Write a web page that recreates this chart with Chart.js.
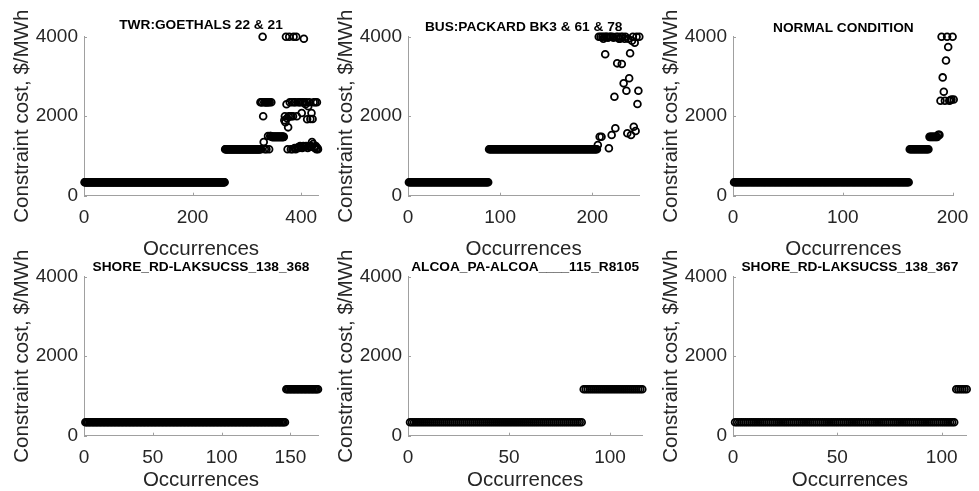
<!DOCTYPE html>
<html>
<head>
<meta charset="utf-8">
<script src="https://cdn.jsdelivr.net/npm/chart.js@4.4.1/dist/chart.umd.min.js"></script>
<style>
  body { margin: 0; background: #fff; width: 979px; height: 491px; position: relative; overflow: hidden; }
  canvas { position: absolute; }
</style>
</head>
<body>
<canvas id="p1" width="330" height="260" style="left:0px;top:0px"></canvas>
<canvas id="p2" width="330" height="260" style="left:324px;top:0px"></canvas>
<canvas id="p3" width="330" height="260" style="left:649px;top:0px"></canvas>
<canvas id="p4" width="330" height="251" style="left:0px;top:240px"></canvas>
<canvas id="p5" width="330" height="251" style="left:324px;top:240px"></canvas>
<canvas id="p6" width="330" height="251" style="left:649px;top:240px"></canvas>
<script>
// panel titles
const titles = [
  'TWR:GOETHALS 22 & 21',
  'BUS:PACKARD BK3 & 61 & 78',
  'NORMAL CONDITION',
  'SHORE_RD-LAKSUCSS_138_368',
  'ALCOA_PA-ALCOA____115_R8105',
  'SHORE_RD-LAKSUCSS_138_367'
];

// axis ranges / ticks
const xMax = [431, 251, 201, 170, 116, 112];
const xTicks = [
  [0, 200, 400],
  [0, 100, 200],
  [0, 100, 200],
  [0, 50, 100, 150],
  [0, 50, 100],
  [0, 50, 100]
];
const yTicks = [0, 2000, 4000];

// constraint cost per occurrence, $/MWh, in occurrence order
// [value, count] = a run of equal values, plain number = a single occurrence
const goethalsCost = [
  [340, 259], [1170, 65],
  2350, 1170, 2350, 2350, 4000, 2000, 1350, 2350, 1170, 2350, 2350, 1170, 2350, 2350, 1500, 2350, 1170, 2350, 1500, 1500, 2350,
  [1480, 23],
  1900, 2000, 1850, 4000, 2300, 1950, 1170, 1720, 2000, 4000, 2350, 2000, 1170, 2000, 2350, 1170,
  2000, 4000, 2350, 1200, 2350, 1170, 4000, 2000, 1200, 2350, 1225, 1200, 2350, 1250, 2350, 1225,
  2080, 1200, 2350, 1250, 3950, 2350, 1225, 2300, 1250, 2350, 1925, 1200, 2250, 1250, 2350, 1225,
  1930, 1250, 2080, 1350, 1930, 1300, 2350, 1225, 1200, 2350, 1250, 1170, 2350, 1200, 1170
];
const packardCost = [
  [340, 87], [1170, 118],
  1275, 4000, 1484, 4000, 1484, 4000, 3950, 4000, 3557, 4000, 4000, 3975, 1192, 4000, 4000, 1527,
  4000, 3975, 2490, 1695, 4000, 3330, 4000, 3950, 3950, 4000, 3313, 4000, 2827, 3950, 4000, 2641,
  1570, 3950, 2953, 3582, 1527, 3900, 4000, 1736, 3850, 1628, 4000, 2307, 2641, 4000
];
const normalCost = [
  [340, 160], [1170, 18], [1480, 8], 1530, 1530,
  2390, 4000, 2976, 2616, 2390, 3400, 4000, 3740, 2390, 2400, 2420, 4000, 2420
];
const shore368Cost = [[340, 146], [1170, 24]];
const alcoaCost = [[340, 86], [1170, 30]];
const shore367Cost = [[340, 106], [1170, 6]];

const series = [goethalsCost, packardCost, normalCost, shore368Cost, alcoaCost, shore367Cost];

function toPoints(seq) {
  const ys = [];
  seq.forEach(item => {
    if (Array.isArray(item)) {
      for (let i = 0; i < item[1]; i++) ys.push(item[0]);
    } else {
      ys.push(item);
    }
  });
  return ys.map((y, i) => ({ x: i + 1, y: y }));
}

const FONT = '"Liberation Sans", Arial, Helvetica, sans-serif';
const AXIS_GRAY = '#a0a0a0';
const TEXT = '#262626';

// panel title + inward tick marks (MATLAB look)
const panelDecor = {
  id: 'panelDecor',
  beforeDatasetsDraw(chart, args, opts) {
    const { ctx, chartArea: a, scales: { x, y } } = chart;
    ctx.save();
    ctx.strokeStyle = AXIS_GRAY;
    ctx.lineWidth = 1;
    ctx.beginPath();
    x.ticks.forEach(t => {
      const px = Math.round(x.getPixelForValue(t.value)) + 0.5;
      ctx.moveTo(px, a.bottom);
      ctx.lineTo(px, a.bottom - 3);
    });
    y.ticks.forEach(t => {
      const py = Math.round(y.getPixelForValue(t.value)) + 0.5;
      ctx.moveTo(a.left, py);
      ctx.lineTo(a.left + 3, py);
    });
    ctx.stroke();
    ctx.fillStyle = '#000';
    ctx.font = 'bold 13.7px ' + FONT;
    ctx.textAlign = 'center';
    ctx.textBaseline = 'middle';
    ctx.fillText(opts.text, (a.left + a.right) / 2, a.top - opts.offset);
    ctx.restore();
  }
};

// chart-area right edge inside each canvas, title offset
const panelRight = [318, 315.3, 316, 318, 318.3, 317.7];
const titleOffset = [11.5, 9.4, 8.4, 9, 9, 9];

series.forEach((seq, i) => {
  const canvas = document.getElementById('p' + (i + 1));
  const H = canvas.height;
  const W = canvas.width;
  new Chart(canvas.getContext('2d'), {
    type: 'scatter',
    data: {
      datasets: [{
        data: toPoints(seq),
        showLine: false,
        pointStyle: 'circle',
        pointRadius: 3.4,
        pointHoverRadius: 3.4,
        pointBorderWidth: 1.8,
        pointBorderColor: '#000',
        pointBackgroundColor: 'rgba(0,0,0,0)',
        clip: false
      }]
    },
    options: {
      responsive: false,
      animation: false,
      layout: {
        padding: { left: 4, top: 36.7, right: W - panelRight[i], bottom: 0 }
      },
      scales: {
        x: {
          type: 'linear',
          min: 0,
          max: xMax[i],
          afterBuildTicks: s => { s.ticks = xTicks[i].map(v => ({ value: v })); },
          afterFit: s => { s.height = H - 195.7; },
          grid: { drawOnChartArea: false, drawTicks: false },
          border: { color: AXIS_GRAY, width: 1 },
          ticks: {
            padding: 10.5,
            color: TEXT,
            autoSkip: false,
            maxRotation: 0,
            callback: v => String(v),
            font: { family: FONT, size: 19 }
          },
          title: {
            display: true,
            text: 'Occurrences',
            color: TEXT,
            font: { family: FONT, size: 20.5 },
            padding: { top: 0, bottom: -1.5 }
          }
        },
        y: {
          type: 'linear',
          min: 0,
          max: 4000,
          afterBuildTicks: s => { s.ticks = yTicks.map(v => ({ value: v })); },
          afterFit: s => { s.width = 80; },
          grid: { drawOnChartArea: false, drawTicks: false },
          border: { color: AXIS_GRAY, width: 1 },
          ticks: {
            padding: 6,
            color: TEXT,
            callback: v => String(v),
            font: { family: FONT, size: 19 }
          },
          title: {
            display: true,
            text: 'Constraint cost, $/MWh',
            color: TEXT,
            font: { family: FONT, size: 20.5 },
            padding: { top: 5.7, bottom: 0 }
          }
        }
      },
      plugins: {
        legend: { display: false },
        tooltip: { enabled: false },
        panelDecor: { text: titles[i], offset: titleOffset[i] }
      }
    },
    plugins: [panelDecor]
  });
});
</script>
</body>
</html>
